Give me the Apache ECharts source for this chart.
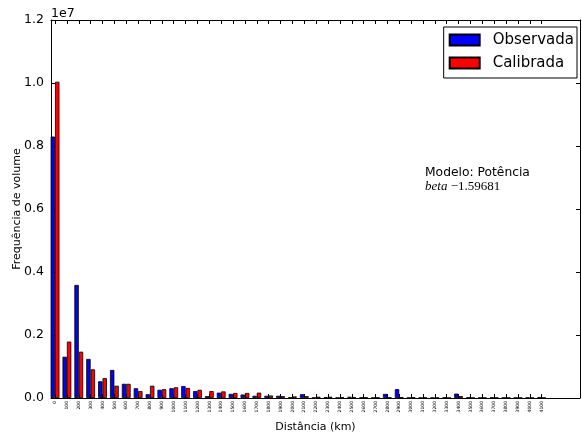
<!DOCTYPE html>
<html>
<head>
<meta charset="utf-8">
<script src="https://cdn.jsdelivr.net/npm/echarts@6/dist/echarts.min.js"></script>
<style>
  html, body { margin: 0; padding: 0; background: #fff; }
  #chart { width: 582px; height: 439px; }
</style>
</head>
<body>
<div id="chart"></div>
<script>
// Distance classes (km) and volume frequencies per class
const distances = [0, 100, 200, 300, 400, 500, 600, 700, 800, 900,
  1000, 1100, 1200, 1300, 1400, 1500, 1600, 1700, 1800, 1900,
  2000, 2100, 2200, 2300, 2400, 2500, 2600, 2700, 2800, 2900,
  3000, 3100, 3200, 3300, 3400, 3500, 3600, 3700, 3800, 3900,
  4000, 4100];

const observada = [8300000, 1310000, 3590000, 1240000, 530000, 890000, 450000, 310000, 120000, 260000,
  310000, 380000, 220000, 60000, 170000, 130000, 110000, 70000, 70000, 70000,
  20000, 120000, 10000, 30000, 10000, 40000, 20000, 10000, 130000, 280000,
  10000, 10000, 10000, 20000, 140000, 20000, 10000, 20000, 10000, 10000,
  10000, 30000];

const calibrada = [10040000, 1790000, 1470000, 910000, 630000, 390000, 450000, 220000, 390000, 280000,
  340000, 320000, 260000, 220000, 210000, 160000, 160000, 170000, 80000, 60000,
  50000, 60000, 40000, 40000, 20000, 30000, 20000, 20000, 20000, 30000,
  20000, 20000, 10000, 10000, 60000, 10000, 10000, 10000, 10000, 10000,
  10000, 10000];

const yTicks = [0, 2000000, 4000000, 6000000, 8000000, 10000000, 12000000];
const scaleExponent = 7;

const seriesNames = ['Observada', 'Calibrada'];
const modelText = 'Modelo: Potência';
const betaValue = '1.59681';

const FONT = 'DejaVu Sans';
const chart = echarts.init(document.getElementById('chart'), null, { renderer: 'canvas' });

const BAR_W = 4.4;
// Visible distance range of the frame (km)
const xMin = -34, xMax = 4423;
const scale = Math.pow(10, scaleExponent);

const axisLineStyle = { show: true, onZero: false, lineStyle: { color: '#000', width: 1 } };

const xAxisCommon = {
  type: 'value',
  min: xMin,
  max: xMax,
  splitLine: { show: false },
  axisLine: axisLineStyle,
  axisTick: { show: true, inside: true, length: 4, customValues: distances, lineStyle: { color: '#000' } }
};

const yAxisCommon = {
  type: 'value',
  min: yTicks[0],
  max: yTicks[yTicks.length - 1],
  interval: yTicks[1] - yTicks[0],
  splitLine: { show: false },
  axisLine: axisLineStyle,
  axisTick: { show: true, inside: true, length: 4, lineStyle: { color: '#000' } }
};

const barStyle = (color) => ({
  color: color,
  borderColor: '#000',
  borderWidth: 0.8
});

chart.setOption({
  animation: false,
  backgroundColor: '#fff',
  grid: { left: 51, right: 2, top: 20, bottom: 41, containLabel: false, outerBoundsMode: 'none' },
  legend: {
    orient: 'vertical',
    right: 5,
    top: 27,
    padding: [5, 3, 7, 5],
    itemWidth: 30,
    itemHeight: 11,
    itemGap: 7,
    backgroundColor: '#fff',
    borderColor: '#000',
    borderWidth: 1,
    borderRadius: 0,
    data: seriesNames.map(n => ({ name: n, icon: 'rect' })),
    textStyle: { fontFamily: FONT, fontSize: 15, color: '#000', lineHeight: 16, padding: [0, 0, 0, 8] }
  },
  xAxis: [
    Object.assign({}, xAxisCommon, {
      position: 'bottom',
      name: 'Distância (km)',
      nameLocation: 'middle',
      nameGap: 24,
      nameMoveOverlap: false,
      nameTextStyle: { fontFamily: FONT, fontSize: 11, color: '#000' },
      axisLabel: {
        show: true,
        customValues: distances,
        rotate: 90,
        margin: 3,
        fontFamily: FONT,
        fontSize: 4.5,
        color: '#000',
        formatter: (v) => String(v)
      }
    }),
    Object.assign({}, xAxisCommon, {
      position: 'top',
      axisLabel: { show: false }
    })
  ],
  yAxis: [
    Object.assign({}, yAxisCommon, {
      position: 'left',
      name: 'Frequência de volume',
      nameLocation: 'middle',
      nameGap: 28,
      nameMoveOverlap: false,
      nameTextStyle: { fontFamily: FONT, fontSize: 11, color: '#000' },
      axisLabel: {
        margin: 7,
        fontFamily: FONT,
        fontSize: 12.5,
        color: '#000',
        formatter: (v) => (v / scale).toFixed(1)
      }
    }),
    Object.assign({}, yAxisCommon, {
      position: 'right',
      axisLabel: { show: false }
    })
  ],
  series: [
    {
      name: seriesNames[0],
      type: 'bar',
      xAxisIndex: 0,
      yAxisIndex: 0,
      barWidth: BAR_W,
      barGap: '0%',
      itemStyle: barStyle('#0000ff'),
      data: distances.map((d, i) => [d, observada[i]])
    },
    {
      name: seriesNames[1],
      type: 'bar',
      xAxisIndex: 0,
      yAxisIndex: 0,
      barWidth: BAR_W,
      barGap: '0%',
      itemStyle: barStyle('#ff0000'),
      data: distances.map((d, i) => [d, calibrada[i]])
    }
  ],
  graphic: [
    {
      type: 'text',
      left: 51,
      top: 7,
      style: { text: '1e' + scaleExponent, font: '12.5px "DejaVu Sans"', fill: '#000' }
    },
    {
      type: 'text',
      x: 425,
      y: 179,
      style: { text: modelText, font: '12.3px "DejaVu Sans"', fill: '#000', verticalAlign: 'bottom' }
    },
    {
      type: 'text',
      x: 425,
      y: 193,
      style: {
        text: '{i|beta}{n| −' + betaValue + '}',
        verticalAlign: 'bottom',
        rich: {
          i: { font: 'italic 13px "Liberation Serif"', fill: '#000' },
          n: { font: '13px "Liberation Serif"', fill: '#000' }
        }
      }
    }
  ]
});
</script>
</body>
</html>
